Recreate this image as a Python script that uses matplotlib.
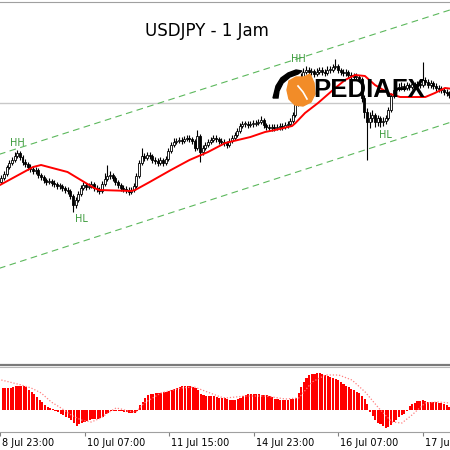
import numpy as np
import matplotlib
matplotlib.use("Agg")
import matplotlib.pyplot as plt
from matplotlib.patches import Polygon
from matplotlib.transforms import ScaledTranslation

# hourly USDJPY candles, bar 0 = 9 Jul 00:00
first_open = 108.18
closes = [
    108.22, 108.26, 108.33, 108.37, 108.40, 108.44, 108.47, 108.43, 108.38, 108.36,
    108.33, 108.31, 108.29, 108.30, 108.25, 108.23, 108.20, 108.18, 108.19, 108.17,
    108.16, 108.14, 108.14, 108.12, 108.10, 108.09, 108.04, 107.95, 108.00, 108.06,
    108.12, 108.15, 108.13, 108.14, 108.16, 108.12, 108.11, 108.09, 108.16, 108.21,
    108.24, 108.25, 108.22, 108.18, 108.15, 108.12, 108.11, 108.10, 108.08, 108.10,
    108.14, 108.24, 108.37, 108.44, 108.42, 108.45, 108.44, 108.40, 108.39, 108.37,
    108.40, 108.37, 108.41, 108.49, 108.55, 108.58, 108.59, 108.60, 108.59, 108.61,
    108.62, 108.61, 108.59, 108.52, 108.64, 108.48, 108.52, 108.55, 108.58, 108.60,
    108.62, 108.61, 108.59, 108.58, 108.57, 108.55, 108.59, 108.62, 108.65, 108.69,
    108.74, 108.76, 108.76, 108.75, 108.76, 108.76, 108.77, 108.78, 108.80, 108.75,
    108.73, 108.72, 108.73, 108.72, 108.73, 108.74, 108.73, 108.75, 108.76, 108.79,
    108.85, 108.96, 109.14, 109.23, 109.28, 109.30, 109.28, 109.29, 109.26, 109.28,
    109.30, 109.28, 109.27, 109.30, 109.30, 109.33, 109.34, 109.30, 109.28, 109.27,
    109.28, 109.25, 109.24, 109.23, 109.23, 109.21, 109.02, 108.88, 108.78, 108.82,
    108.85, 108.78, 108.82, 108.78, 108.79, 108.82, 108.90, 109.04, 109.10, 109.12,
    109.13, 109.14, 109.12, 109.15, 109.13, 109.16, 109.14, 109.16, 109.15, 109.20,
    109.18, 109.15, 109.17, 109.14, 109.12, 109.11, 109.10, 109.08, 109.07, 109.05,
    109.05,
]
highs = [
    108.25, 108.29, 108.35, 108.40, 108.43, 108.48, 108.50, 108.49, 108.45, 108.41,
    108.38, 108.36, 108.34, 108.33, 108.32, 108.27, 108.25, 108.22, 108.22, 108.21,
    108.20, 108.18, 108.17, 108.16, 108.14, 108.13, 108.11, 108.06, 108.03, 108.09,
    108.15, 108.18, 108.17, 108.17, 108.19, 108.18, 108.15, 108.13, 108.19, 108.27,
    108.35, 108.29, 108.27, 108.24, 108.20, 108.17, 108.15, 108.14, 108.13, 108.13,
    108.17, 108.27, 108.40, 108.52, 108.47, 108.48, 108.48, 108.46, 108.43, 108.42,
    108.43, 108.42, 108.44, 108.52, 108.58, 108.62, 108.62, 108.63, 108.63, 108.64,
    108.65, 108.65, 108.63, 108.61, 108.70, 108.66, 108.55, 108.58, 108.61, 108.63,
    108.65, 108.65, 108.63, 108.62, 108.61, 108.59, 108.62, 108.65, 108.68, 108.72,
    108.77, 108.79, 108.79, 108.79, 108.79, 108.80, 108.80, 108.81, 108.84, 108.82,
    108.77, 108.76, 108.76, 108.76, 108.76, 108.77, 108.77, 108.78, 108.79, 108.82,
    108.88, 108.99, 109.17, 109.27, 109.32, 109.34, 109.33, 109.32, 109.31, 109.32,
    109.33, 109.33, 109.31, 109.34, 109.34, 109.36, 109.41, 109.36, 109.32, 109.31,
    109.31, 109.30, 109.28, 109.27, 109.27, 109.25, 109.23, 109.05, 108.92, 108.88,
    108.90, 108.87, 108.85, 108.84, 108.83, 108.85, 108.93, 109.07, 109.13, 109.16,
    109.17, 109.18, 109.17, 109.18, 109.17, 109.19, 109.18, 109.19, 109.19, 109.38,
    109.23, 109.21, 109.20, 109.19, 109.17, 109.15, 109.14, 109.12, 109.11, 109.09,
    109.08,
]
lows = [
    108.16, 108.20, 108.24, 108.31, 108.35, 108.38, 108.42, 108.40, 108.35, 108.33,
    108.30, 108.28, 108.26, 108.26, 108.22, 108.20, 108.17, 108.15, 108.16, 108.14,
    108.13, 108.11, 108.11, 108.09, 108.07, 108.06, 108.01, 107.88, 107.92, 107.98,
    108.04, 108.10, 108.10, 108.11, 108.12, 108.09, 108.08, 108.06, 108.07, 108.14,
    108.19, 108.21, 108.19, 108.15, 108.12, 108.09, 108.08, 108.07, 108.05, 108.06,
    108.08, 108.12, 108.22, 108.35, 108.39, 108.40, 108.41, 108.37, 108.36, 108.34,
    108.35, 108.34, 108.35, 108.39, 108.47, 108.53, 108.56, 108.57, 108.56, 108.57,
    108.59, 108.58, 108.56, 108.49, 108.50, 108.38, 108.45, 108.50, 108.53, 108.56,
    108.58, 108.58, 108.56, 108.55, 108.54, 108.52, 108.53, 108.57, 108.60, 108.63,
    108.67, 108.72, 108.73, 108.72, 108.73, 108.73, 108.74, 108.75, 108.76, 108.72,
    108.70, 108.69, 108.69, 108.69, 108.70, 108.70, 108.70, 108.71, 108.72, 108.74,
    108.77, 108.83, 108.94, 109.12, 109.21, 109.26, 109.25, 109.25, 109.23, 109.24,
    109.26, 109.25, 109.24, 109.25, 109.27, 109.28, 109.31, 109.27, 109.25, 109.24,
    109.24, 109.22, 109.21, 109.20, 109.20, 109.18, 108.98, 108.82, 108.40, 108.72,
    108.78, 108.73, 108.74, 108.73, 108.74, 108.76, 108.80, 108.88, 109.02, 109.08,
    109.09, 109.10, 109.09, 109.10, 109.10, 109.11, 109.11, 109.12, 109.12, 109.13,
    109.15, 109.12, 109.12, 109.11, 109.09, 109.08, 109.07, 109.05, 109.04, 109.02,
    109.02,
]

# moving average (red), read at a few bars
ma_x = [-0.5, 12, 15, 25, 30, 35, 37, 49, 50.5, 56, 64, 71, 78, 84.5, 94, 99.5,
        103.3, 109.7, 111, 114.6, 119.5, 126, 129.7, 133.5, 137.2, 141, 146.7,
        150.5, 160, 163.6, 167.4, 170.5]
ma_y = [108.15, 108.33, 108.35, 108.28, 108.20, 108.12, 108.10, 108.09, 108.10,
        108.18, 108.30, 108.40, 108.48, 108.57, 108.63, 108.68, 108.70, 108.74,
        108.77, 108.87, 108.97, 109.12, 109.20, 109.25, 109.24, 109.15, 109.06,
        109.03, 109.03, 109.07, 109.12, 109.11]

# channel lines and current price line
channel_x = [-1, 171]
upper_channel = [108.455, 109.915]
lower_channel = [107.315, 108.790]
price_line = 108.975

swing_text = ["HH", "HL", "HH", "HL"]
swing_x = [5.9, 30.1, 112.0, 144.8]
swing_y = [108.57, 107.81, 109.41, 108.65]

# MACD histogram and signal
macd_hist = [
    .022, .022, .022, .022, .023, .024, .024, .024, .024, .023,
    .020, .018, .016, .013, .010, .008, .005, .003, .002, .001,
    -.001, -.002, -.004, -.005, -.007, -.008, -.010, -.013, -.016, -.014,
    -.013, -.012, -.011, -.010, -.009, -.009, -.009, -.008, -.007, -.004,
    -.003, -.001, -.001, -.001, -.001, -.001, -.002, -.002, -.003, -.003,
    -.003, -.001, .005, .008, .012, .015, .016, .016, .017, .017,
    .017, .018, .018, .019, .020, .021, .022, .023, .024, .024,
    .024, .024, .023, .022, .020, .016, .015, .014, .014, .014,
    .014, .013, .012, .012, .012, .011, .010, .010, .010, .011,
    .012, .014, .015, .016, .016, .016, .016, .016, .015, .015,
    .015, .014, .013, .011, .011, .010, .010, .010, .010, .011,
    .011, .012, .017, .023, .028, .032, .035, .036, .036, .037,
    .037, .036, .035, .034, .033, .032, .031, .030, .028, .026,
    .024, .023, .021, .020, .018, .017, .014, .011, .006, -.002,
    -.006, -.010, -.013, -.014, -.016, -.018, -.017, -.015, -.012, -.010,
    -.007, -.005, -.004, -.001, .004, .006, .007, .009, .009, .010,
    .009, .008, .008, .008, .008, .007, .007, .006, .005, .003,
    .002,
]
signal_x = [-0.5, 7.1, 10.8, 14.6, 18.4, 22.1, 25.9, 29.7, 33.5, 37.2, 39.8, 42.9,
            44.8, 47.3, 50.5, 53.6, 59.9, 67.4, 72.5, 77.5, 82.5, 84.4, 91.9, 99.5,
            107, 112.1, 117.1, 122.2, 127.2, 132.2, 137.2, 142.3, 147.3, 151.1,
            154.9, 159.9, 164.9, 169.3]
signal_y = [.030, .025, .022, .017, .008, .002, -.005, -.010, -.012, -.008, -.003,
            .002, .001, -.001, -.002, .007, .017, .022, .023, .018, .013, .012,
            .014, .014, .011, .012, .028, .035, .035, .030, .018, .002, -.012,
            -.013, -.005, .007, .008, .007]

tick_bars = [-1, 31, 63, 95, 127, 159]
tick_labels = ["8 Jul 23:00", "10 Jul 07:00", "11 Jul 15:00",
               "14 Jul 23:00", "16 Jul 07:00", "17 Jul 15:00"]

W = H = 450
XLIM = (-0.49, 169.3)
fig = plt.figure(figsize=(4.5, 4.5), dpi=100)
fig.patch.set_facecolor("white")

ax = fig.add_axes([0, 1 - 365 / H, 1, 363 / H])
mx = fig.add_axes([0, 1 - 431.5 / H, 1, 64.5 / H])

idx = np.arange(len(closes))
c = np.array(closes)
o = np.r_[first_open, c[:-1]]
up = c >= o

ax.vlines(idx, lows, highs, color="black", lw=0.8, zorder=3)
body = np.maximum(np.abs(c - o), 0.006)
ax.bar(idx[up], body[up], bottom=o[up], width=0.75, color="white",
       edgecolor="black", linewidth=0.6, zorder=4)
ax.bar(idx[~up], body[~up], bottom=c[~up], width=0.75, color="black",
       edgecolor="black", linewidth=0.6, zorder=4)

ax.plot(ma_x, ma_y, color="#ff0000", lw=1.4, zorder=5)
ax.axhline(price_line, color="#c8c8c8", lw=1, zorder=1)
for ys in (upper_channel, lower_channel):
    ax.plot(channel_x, ys, color="#5cb85c", lw=0.8, dashes=(6, 4), zorder=2)
for t, x, y in zip(swing_text, swing_x, swing_y):
    ax.text(x, y, t, color="#3a9a3a", fontsize=7, ha="center", va="center", zorder=6)

ax.set_xlim(*XLIM)
ax.set_ylim(106.35, 109.98)
ax.set_xticks([])
ax.set_yticks([])
for s in ("left", "right"):
    ax.spines[s].set_visible(False)
ax.spines["top"].set_color("#a0a0a0")
ax.spines["top"].set_linewidth(0.8)
ax.spines["bottom"].set_color("#7a7a7a")
ax.spines["bottom"].set_linewidth(1.6)

# MACD panel
mx.bar(idx, macd_hist, width=0.8, color="#ff0000", edgecolor="none", zorder=3)
mx.plot(signal_x, signal_y, color="#ff8080", lw=0.9, linestyle=(0, (1, 1.5)), zorder=4)
mx.set_xlim(*XLIM)
mx.set_ylim(-0.0215, 0.043)
mx.set_yticks([])
for s in ("left", "right"):
    mx.spines[s].set_visible(False)
mx.spines["top"].set_color("#b8b8b8")
mx.spines["top"].set_linewidth(0.8)
mx.spines["bottom"].set_color("#a0a0a0")
mx.spines["bottom"].set_linewidth(0.8)
mx.set_xticks(tick_bars)
mx.set_xticklabels(tick_labels, ha="left",
                   family=["Liberation Sans Narrow", "DejaVu Sans"], fontsize=7)
mx.tick_params(axis="x", length=3, width=0.8, color="#808080", pad=1.5)
shift = ScaledTranslation(2 / 100, 0, fig.dpi_scale_trans)
for lbl in mx.get_xticklabels():
    lbl.set_transform(lbl.get_transform() + shift)

# title
fig.text(207 / W, 1 - 31 / H, "USDJPY - 1 Jam", ha="center", va="center",
         fontsize=12, color="black")

# watermark logo
lx = fig.add_axes([270 / W, 1 - 108 / H, 50 / W, 45 / H])
lx.set_xlim(0, 50)
lx.set_ylim(0, 45)
lx.axis("off")
lx.patch.set_alpha(0)
lx.add_patch(Polygon([(19, 27), (26, 31), (34, 31), (40, 34), (44, 25), (45, 14),
                      (41, 6), (33, 2), (25, 3), (19, 9), (17, 18)],
                     closed=True, color="#f28c28", zorder=2))
lx.add_patch(Polygon([(3, 10), (6, 22), (11, 30), (18, 35), (26, 38), (32, 37),
                      (28, 34), (20, 31), (13, 25), (9, 17), (8, 10)],
                     closed=True, color="black", zorder=3))
lx.plot([28, 33, 37], [22, 16, 9], color="white", lw=1.2, zorder=4)
fig.text(313 / W, 1 - 90 / H, "PEDIAFX", ha="left", va="center",
         fontsize=18.5, fontweight="bold", family=["Liberation Sans", "DejaVu Sans"],
         color="black", zorder=10)

fig.savefig("out.png", dpi=100, facecolor="white")
